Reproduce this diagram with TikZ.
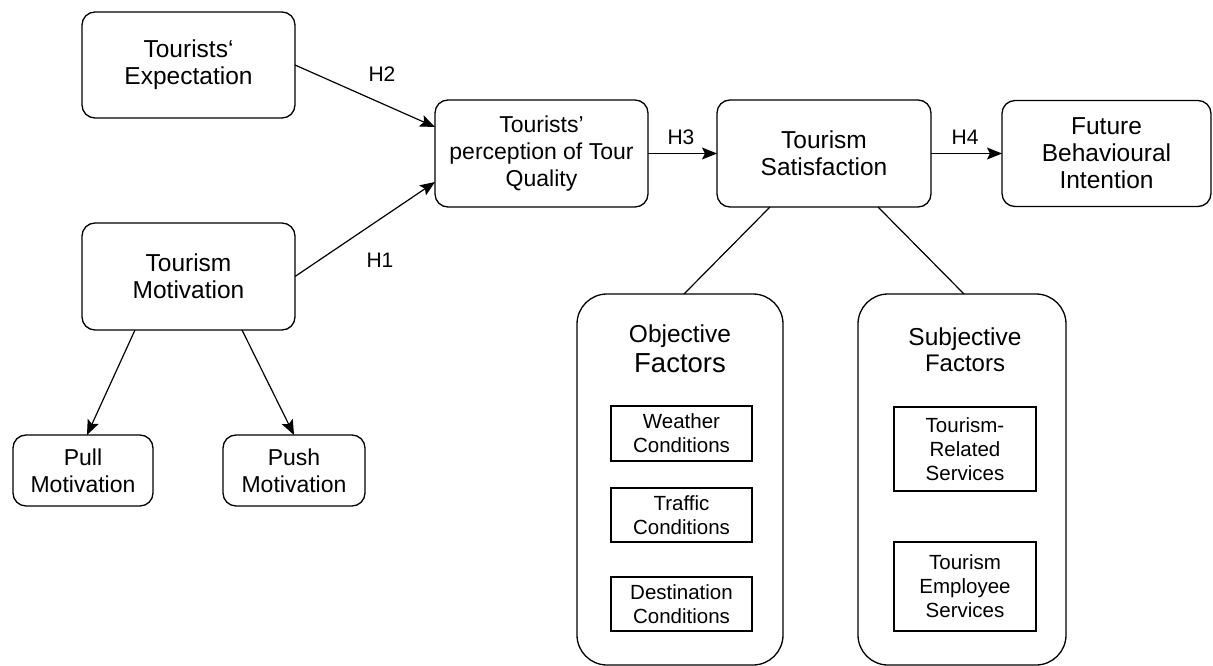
\documentclass[tikz,border=0pt]{standalone}
\usepackage{fontspec}
\setmainfont{Liberation Sans}
\usetikzlibrary{arrows.meta,calc}
\begin{document}
\begin{tikzpicture}[x=1pt,y=-1pt,
  every node/.style={inner sep=0pt,outer sep=0pt},
  box/.style={draw,line width=1.3pt,rounded corners=13pt,align=center,
    font=\fontsize{24.5}{27}\selectfont},
  bigbox/.style={draw,line width=1.3pt,rounded corners=30pt},
  smallbox/.style={draw,line width=1.3pt,align=center,
    font=\fontsize{20.5}{24}\selectfont},
  hlabel/.style={font=\fontsize{21}{24}\selectfont},
  link/.style={line width=1.2pt},
  arrow/.style={line width=1.2pt,-{Stealth[length=15pt,width=12pt,inset=3pt]}}]
\useasboundingbox (0,0) rectangle (1213,666);

% upper row
\node[box,minimum width=213pt,minimum height=106pt] (exp) at (188.5,65) {Tourists‘\\Expectation};
\node[box,minimum width=213pt,minimum height=107pt] (mot) at (188.5,276.5) {Tourism\\Motivation};
\node[box,minimum width=213pt,minimum height=107pt,font=\fontsize{23}{27}\selectfont] (qual) at (541.5,153.5) {Tourists'\\perception of Tour\\Quality};
\node[box,minimum width=214pt,minimum height=107pt] (sat) at (824,153.5) {Tourism\\Satisfaction};
\node[box,minimum width=209pt,minimum height=106pt] (fut) at (1106.5,153.5) {Future\\Behavioural\\Intention};

% motivation types
\node[box,minimum width=140pt,minimum height=71pt,font=\fontsize{23}{27}\selectfont] (pull) at (83,470.5) {Pull\\Motivation};
\node[box,minimum width=142pt,minimum height=71pt,font=\fontsize{23}{27}\selectfont] (push) at (294,470.5) {Push\\Motivation};

% factor groups
\node[bigbox,minimum width=206pt,minimum height=371pt] (obj) at (680,479.5) {};
\node[bigbox,minimum width=208pt,minimum height=371pt] (subj) at (962,479.5) {};
\node[anchor=base,font=\fontsize{24.5}{27}\selectfont] (objt) at (680,342) {Objective};
\node[anchor=base,font=\fontsize{27.5}{30}\selectfont] (objf) at (680,372) {Factors};
\node[anchor=base,font=\fontsize{24.5}{27}\selectfont] (subt) at (965,345) {Subjective};
\node[anchor=base,font=\fontsize{24}{27}\selectfont] (subf) at (965,371) {Factors};

\node[smallbox,minimum width=141pt,minimum height=55pt] (wea) at (681.5,433.5) {Weather\\Conditions};
\node[smallbox,minimum width=141pt,minimum height=54pt] (tra) at (681.5,515) {Traffic\\Conditions};
\node[smallbox,minimum width=141pt,minimum height=54pt] (des) at (681.5,604) {Destination\\Conditions};
\node[smallbox,minimum width=142pt,minimum height=84pt] (rel) at (965,449) {Tourism-\\Related\\Services};
\node[smallbox,minimum width=142pt,minimum height=89pt] (emp) at (965,586.5) {Tourism\\Employee\\Services};

% hypotheses
\draw[arrow] (exp.east) -- ($(qual.west)+(0,-26.5)$);
\draw[arrow] (mot.east) -- ($(qual.west)+(0,28.5)$);
\draw[arrow] (qual.east) -- (sat.west);
\draw[arrow] (sat.east) -- (fut.west);
\node[hlabel] (h2) at (382,74) {H2};
\node[hlabel] (h1) at (380,260) {H1};
\node[hlabel] (h3) at (681,137) {H3};
\node[hlabel] (h4) at (965,137) {H4};

% motivation split
\draw[arrow] ($(mot.south)+(-53.5,0)$) -- ($(pull.north)+(4,0)$);
\draw[arrow] ($(mot.south)+(53.5,0)$) -- (push.north);

% satisfaction factors
\draw[link] ($(sat.south)+(-54,0)$) -- ($(obj.north)+(4,0)$);
\draw[link] ($(sat.south)+(54,0)$) -- ($(subj.north)+(2,0)$);
\end{tikzpicture}
\end{document}
